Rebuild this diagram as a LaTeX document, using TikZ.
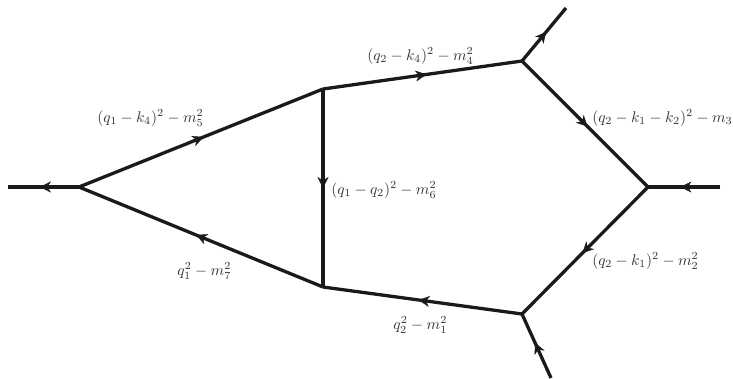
\documentclass[tikz,border=0pt]{standalone}
\usetikzlibrary{decorations.markings,arrows.meta}
\definecolor{ink}{HTML}{1A1A1A}
\definecolor{lab}{HTML}{333333}
\tikzset{
  prop/.style={draw=ink,line width=3.3pt,line cap=butt,postaction={decorate},
    decoration={markings,mark=at position #1 with {\arrow[ink,line width=.4pt]{Stealth[length=11pt,width=11pt,inset=3.5pt]}}}},
  prop/.default=0.5,
  lbl/.style={text=lab,inner sep=0pt,anchor=west,scale=1.55}
}
\begin{document}
\begin{tikzpicture}[x=1pt,y=-1pt]
\useasboundingbox (0,0) rectangle (733,378);
\coordinate (L) at (8,187);
\coordinate (A) at (79,187);
\coordinate (B) at (323,89);
\coordinate (C) at (323,287);
\coordinate (D) at (522,61);
\coordinate (E) at (522,314);
\coordinate (F) at (648,187);
\coordinate (R) at (720,187);
\coordinate (T) at (566,8);
\coordinate (U) at (551,378);
\draw[prop=0.55] (A) -- (L);
\draw[prop=0.51] (A) -- (B);
\draw[prop=0.5] (B) -- (C);
\draw[prop=0.52] (C) -- (A);
\draw[prop=0.52] (B) -- (D);
\draw[prop=0.52] (E) -- (C);
\draw[prop=0.55] (D) -- (T);
\draw[prop=0.52] (D) -- (F);
\draw[prop=0.52] (F) -- (E);
\draw[prop=0.55] (R) -- (F);
\draw[prop=0.55] (U) -- (E);
\node[lbl] (l5) at (97,118) {$(q_1-k_4)^2-m_5^2$};
\node[lbl] (l7) at (177,271) {$q_1^2-m_7^2$};
\node[lbl] (l6) at (331,190) {$(q_1-q_2)^2-m_6^2$};
\node[lbl] (l4) at (367,56) {$(q_2-k_4)^2-m_4^2$};
\node[lbl] (l3) at (592,118) {$(q_2-k_1-k_2)^2-m_3$};
\node[lbl] (l2) at (592,261) {$(q_2-k_1)^2-m_2^2$};
\node[lbl] (l1) at (393,325) {$q_2^2-m_1^2$};
\end{tikzpicture}
\end{document}
